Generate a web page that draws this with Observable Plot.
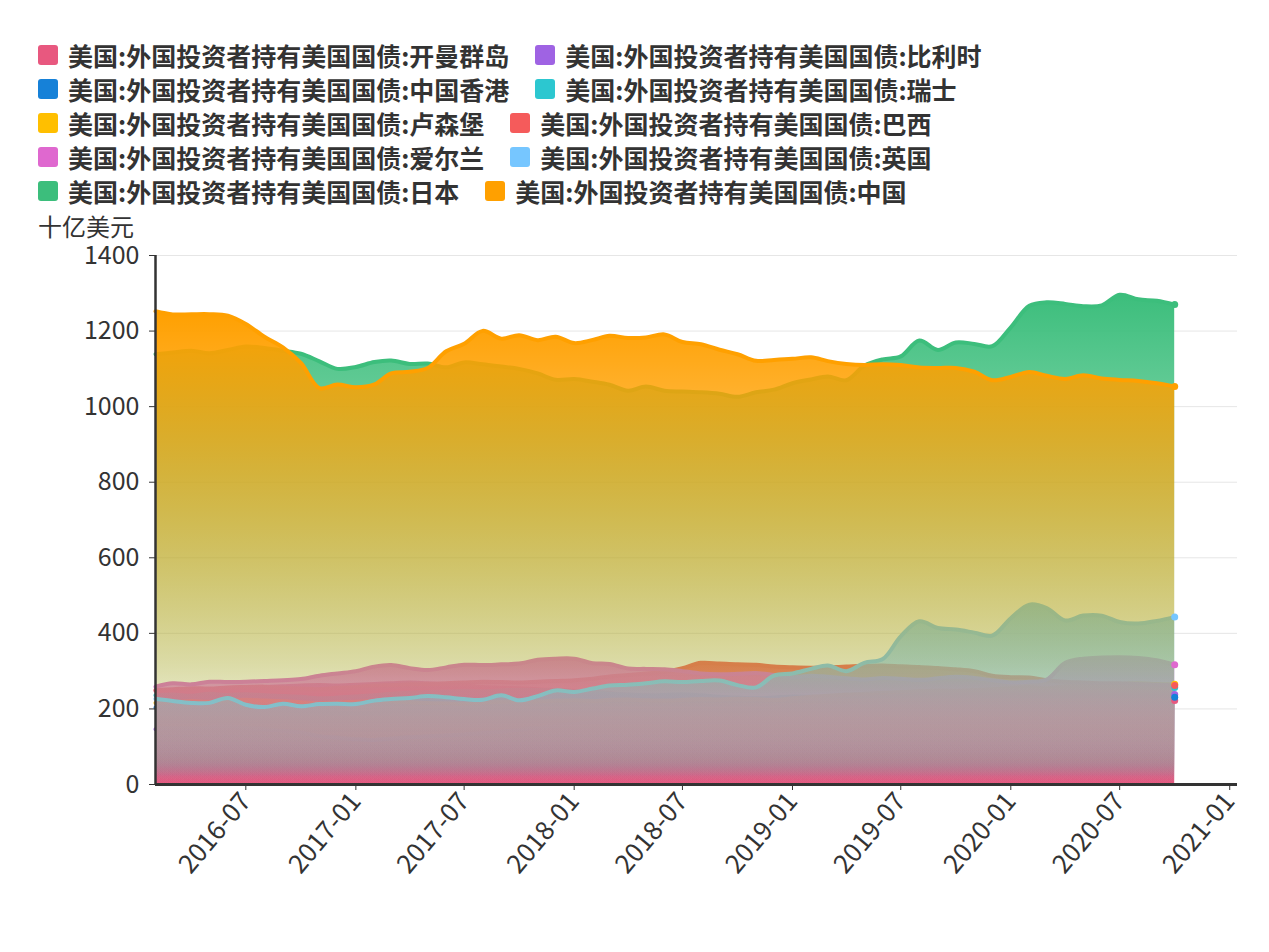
<!DOCTYPE html>
<html>
<head>
<meta charset="utf-8">
<script src="https://cdn.jsdelivr.net/npm/d3@7"></script>
<script src="https://cdn.jsdelivr.net/npm/@observablehq/plot@0.6"></script>
<style>
  html, body { margin: 0; padding: 0; background: #fff; }
  body { font-family: "Noto Sans CJK SC", "Noto Sans", sans-serif; color: #333; width: 1269px; }
  #legend { padding: 38px 0 0 38px; width: 1100px; display: flex; flex-wrap: wrap; box-sizing: content-box; }
  .item { display: flex; align-items: center; height: 34px; line-height: 30px; margin-right: 26px; font-weight: bold; font-size: 25px; color: #333; white-space: nowrap; }
  .sw { width: 20px; height: 20px; border-radius: 3px; margin-right: 10px; flex: none; }
  #unit { margin-left: 38px; height: 28px; font-size: 24px; color: #333; }
  #unit span { display: inline-block; line-height: 24px; height: 24px; margin-top: 3px; }
  #chart svg { display: block; }
</style>
</head>
<body>
<div id="legend"></div>
<div id="unit"><span id="unitText"></span></div>
<div id="chart"></div>
<script>
const months = ["2016-02","2016-03","2016-04","2016-05","2016-06","2016-07","2016-08","2016-09","2016-10","2016-11","2016-12",
  "2017-01","2017-02","2017-03","2017-04","2017-05","2017-06","2017-07","2017-08","2017-09","2017-10","2017-11","2017-12",
  "2018-01","2018-02","2018-03","2018-04","2018-05","2018-06","2018-07","2018-08","2018-09","2018-10","2018-11","2018-12",
  "2019-01","2019-02","2019-03","2019-04","2019-05","2019-06","2019-07","2019-08","2019-09","2019-10","2019-11","2019-12",
  "2020-01","2020-02","2020-03","2020-04","2020-05","2020-06","2020-07","2020-08","2020-09","2020-10"];

const seriesNames = [
  "美国:外国投资者持有美国国债:开曼群岛",
  "美国:外国投资者持有美国国债:比利时",
  "美国:外国投资者持有美国国债:中国香港",
  "美国:外国投资者持有美国国债:瑞士",
  "美国:外国投资者持有美国国债:卢森堡",
  "美国:外国投资者持有美国国债:巴西",
  "美国:外国投资者持有美国国债:爱尔兰",
  "美国:外国投资者持有美国国债:英国",
  "美国:外国投资者持有美国国债:日本",
  "美国:外国投资者持有美国国债:中国"
];
const seriesColors = ["#e8587f","#9f63e3","#1681d8","#2cc7d0","#ffbf00","#f55b5b","#df68cf","#76c6ff","#3cbe7c","#ffa000"];

const cayman = [248,250,252,250,254,256,258,260,262,263,262,264,266,268,270,268,266,262,258,256,255,252,250,248,246,242,238,236,234,232,230,228,226,224,222,224,226,228,226,224,222,220,218,217,216,215,214,213,216,218,220,222,224,225,224,223,222];
const belgium = [146,150,148,152,155,150,146,142,138,128,124,120,118,122,125,128,130,133,136,140,145,150,155,160,165,168,172,176,180,182,185,183,181,184,188,192,196,200,204,206,208,212,214,216,215,218,220,222,225,228,230,232,234,236,237,238,238];
const hongkong = [204,202,199,200,203,201,198,196,193,191,190,188,190,192,194,195,197,196,198,199,197,196,198,200,199,197,195,196,198,197,196,195,194,196,199,202,205,208,210,213,216,218,221,224,226,225,227,230,233,236,238,241,240,238,236,233,231];
const switzerland = [236,238,235,240,237,239,236,234,232,228,230,233,236,240,243,245,246,248,247,249,251,250,250,247,244,240,238,236,237,239,236,232,230,228,230,233,232,230,228,232,235,237,236,238,239,240,238,242,246,250,252,254,253,256,255,257,257];
const luxembourg = [216,218,221,219,222,224,222,220,218,215,217,219,221,220,218,216,215,214,217,219,221,220,222,223,221,224,225,223,222,224,226,225,227,226,224,228,232,235,238,240,243,245,247,249,248,250,252,255,258,254,260,262,264,266,268,266,265];
const brazil = [250,252,255,254,257,258,259,256,254,252,256,258,262,263,265,266,268,270,272,271,270,272,274,276,280,286,290,294,298,308,322,320,318,317,312,310,309,310,312,314,315,313,311,308,305,300,288,284,283,276,272,270,268,268,266,264,262];
const ireland = [259,268,265,272,271,272,274,276,279,288,294,300,312,316,308,303,310,317,316,318,320,330,333,333,321,319,307,306,305,300,294,292,293,295,290,284,288,285,281,278,282,280,277,281,285,282,276,270,272,278,322,333,336,337,335,329,317];
const uk = [227,221,216,216,229,211,205,214,207,213,214,213,222,226,229,234,231,226,224,236,223,234,249,245,254,262,264,268,273,271,274,275,263,257,288,294,306,315,300,322,332,392,432,414,410,402,394,440,476,467,434,447,447,430,426,433,443];
const japan = [1139,1143,1148,1141,1150,1159,1155,1148,1140,1120,1100,1105,1118,1122,1113,1114,1104,1117,1112,1106,1100,1088,1071,1073,1066,1058,1042,1053,1042,1040,1038,1034,1026,1038,1045,1062,1072,1080,1070,1108,1125,1133,1175,1150,1170,1166,1160,1210,1267,1276,1272,1266,1268,1296,1284,1280,1270];
const china = [1252.3,1244.0,1244.6,1244.8,1240.8,1218.8,1185.1,1157.0,1115.7,1049.3,1058.4,1051.1,1058.8,1088.1,1092.2,1102.1,1146.5,1166.5,1200.5,1180.0,1189.0,1176.0,1184.9,1168.2,1176.7,1187.6,1181.7,1183.1,1191.2,1171.0,1165.1,1150.6,1138.6,1121.2,1123.5,1126.5,1130.5,1120.5,1113.0,1110.2,1112.5,1110.0,1103.3,1102.2,1102.5,1092.3,1069.9,1078.6,1091.8,1081.6,1073.4,1083.0,1074.4,1070.8,1068.0,1061.9,1053.5];

const yTicks = [0,200,400,600,800,1000,1200,1400];
const xTickLabels = ["2016-07","2017-01","2017-07","2018-01","2018-07","2019-01","2019-07","2020-01","2020-07","2021-01"];
const xDomainEnd = "2021-01-14";
const unitLabel = "十亿美元";

// gradient opacity stops of each series' fill (first series is solid)
const gradStops = [[0, 1], [0.75, 0.25], [0.92, 0.04], [1, 0]];

const parseMonth = d3.utcParse("%Y-%m");
const parseDay = d3.utcParse("%Y-%m-%d");
const seriesValues = [cayman, belgium, hongkong, switzerland, luxembourg, brazil, ireland, uk, japan, china];
const data = seriesValues.map((vals, i) => months.map((m, j) => ({date: parseMonth(m), value: vals[j], name: seriesNames[i]})));
const lastPoints = data.map(d => d[d.length - 1]);

// legend
const legend = document.getElementById("legend");
seriesNames.forEach((n, i) => {
  const it = document.createElement("div");
  it.className = "item";
  const sw = document.createElement("span");
  sw.className = "sw";
  sw.style.background = seriesColors[i];
  it.appendChild(sw);
  it.appendChild(document.createTextNode(n));
  legend.appendChild(it);
});
document.getElementById("unitText").textContent = unitLabel;

const marks = [Plot.ruleY(yTicks.slice(1), {stroke: "#e6e6e6", strokeWidth: 1})];
data.forEach((d, i) => {
  marks.push(Plot.areaY(d, {x: "date", y: "value", fill: `url(#grad${i})`, curve: "catmull-rom"}));
  marks.push(Plot.lineY(d, {x: "date", y: "value", stroke: seriesColors[i], strokeWidth: 4, curve: "catmull-rom"}));
});
marks.push(Plot.dot(lastPoints, {x: "date", y: "value", fill: "name", r: 3.5}));
marks.push(Plot.ruleX([parseMonth(months[0])], {y1: 0, y2: 1400, stroke: "#333", strokeWidth: 2.5}));
marks.push(Plot.ruleY([0], {stroke: "#333", strokeWidth: 3}));
marks.push(Plot.axisY({ticks: yTicks, tickFormat: d => String(d), tickSize: 6, tickPadding: 10, fontSize: 25, label: null, stroke: "#333"}));
marks.push(Plot.axisX({ticks: xTickLabels.map(parseMonth), tickFormat: d3.utcFormat("%Y-%m"), tickSize: 6, tickPadding: 6, tickRotate: -50, fontSize: 26, label: null, stroke: "#333"}));

const chart = Plot.plot({
  width: 1269,
  height: 716,
  marginLeft: 155,
  marginRight: 32,
  marginTop: 19,
  marginBottom: 168,
  style: {fontFamily: '"Noto Sans CJK SC", "Noto Sans", sans-serif', fontSize: "25px", color: "#333", background: "#fff", overflow: "visible"},
  x: {type: "utc", domain: [parseMonth(months[0]), parseDay(xDomainEnd)]},
  y: {domain: [0, 1400]},
  color: {domain: seriesNames, range: seriesColors},
  marks
});

const svg = chart.tagName.toLowerCase() === "svg" ? chart : chart.querySelector("svg");
const ns = "http://www.w3.org/2000/svg";
const defs = document.createElementNS(ns, "defs");
seriesColors.forEach((c, i) => {
  const g = document.createElementNS(ns, "linearGradient");
  g.setAttribute("id", `grad${i}`);
  g.setAttribute("x1", "0"); g.setAttribute("y1", "0");
  g.setAttribute("x2", "0"); g.setAttribute("y2", "1");
  const stops = i === 0 ? [[0, 1], [1, 1]] : gradStops;
  stops.forEach(([o, a]) => {
    const s = document.createElementNS(ns, "stop");
    s.setAttribute("offset", String(o));
    s.setAttribute("stop-color", c);
    s.setAttribute("stop-opacity", String(a));
    g.appendChild(s);
  });
  defs.appendChild(g);
});
svg.insertBefore(defs, svg.firstChild);
document.getElementById("chart").appendChild(chart);
</script>
</body>
</html>
